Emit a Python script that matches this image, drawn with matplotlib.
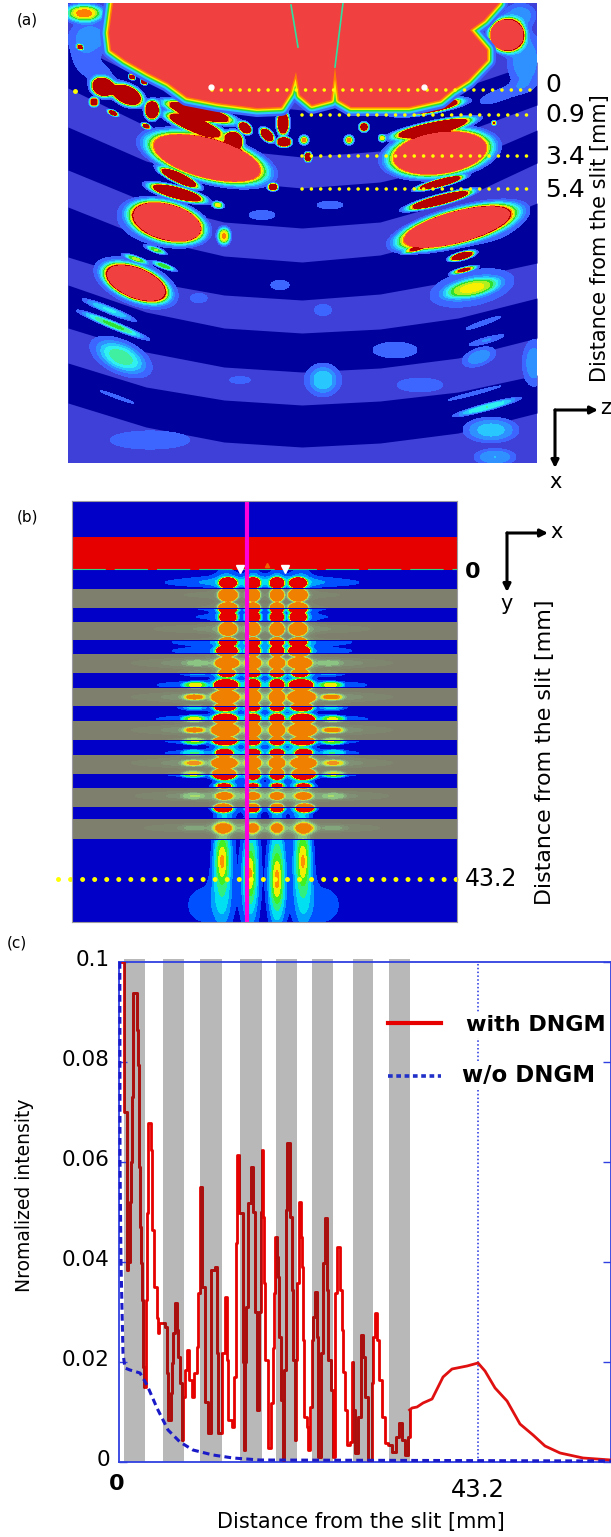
import numpy as np
import matplotlib
matplotlib.use('Agg')
import matplotlib.pyplot as plt
from matplotlib.patches import Polygon, Rectangle
from matplotlib.transforms import ScaledTranslation

W, H = 611, 1537

# ---- panel (a): layered waveguide map, coordinates are picture pixels
arc_x = [68, 146, 224, 302, 380, 458, 537]
band_tops = [[42, 80, 102, 110, 105, 89, 62],
             [127, 161, 181, 188, 182, 164, 130],
             [207, 238, 256, 262, 255, 235, 203],
             [285, 312, 328, 333, 329, 318, 298],
             [363, 387, 400, 405, 401, 392, 375]]
band_bottoms = [[88, 126, 149, 157, 151, 134, 105],
                [170, 202, 222, 228, 222, 200, 163],
                [257, 281, 295, 300, 294, 280, 263],
                [328, 352, 367, 372, 368, 358, 338],
                [403, 427, 442, 447, 443, 433, 413]]

# x, y, half length, half width, angle, peak
a_blobs = [
    (103, 87, 10, 8, 20, 2.7), (127, 95, 14, 8, 25, 2.7), (152, 110, 6, 8, 0, 2.7),
    (199, 112, 30, 6, 15, 2.7), (195, 125, 26, 6, 20, 2.7), (234, 140, 8, 7, 45, 2.7),
    (245, 128, 6, 4, 40, 2.7), (267, 135, 7, 4, 45, 2.7), (283, 123, 5, 10, 0, 2.7),
    (284, 142, 6, 4, 0, 2.7), (429, 107, 28, 5, -10, 2.7), (433, 128, 34, 5, -12, 2.7),
    (364, 127, 4, 4, 0, 1.6), (349, 140, 4, 4, 0, .95), (304, 140, 4, 4, 0, .95),
    (382, 138, 3, 3, 0, .8), (308, 157, 3, 4, 0, 2.0), (494, 123, 2, 2, 0, 1.0),
    (94, 102, 4, 4, 0, 1.5), (113, 113, 5, 2, 25, 1.5), (146, 126, 4, 2, 25, 1.5),
    (80, 47, 3, 2, 30, 1.2), (132, 77, 3, 2, 30, 1.6), (144, 82, 3, 2, 30, 1.6),
    (179, 178, 18, 4, 25, 2.7), (177, 193, 24, 5, 15, 2.7), (440, 183, 20, 3, -15, 2.7),
    (440, 200, 28, 4, -15, 2.7), (218, 205, 5, 3, 10, .85), (273, 187, 4, 3, 0, 2.2),
    (224, 236, 6, 8, 0, .92), (462, 256, 11, 3, -15, 2.2), (464, 270, 11, 2, -15, 1.1),
    (136, 259, 11, 2, 20, .65), (164, 266, 11, 2, 20, .65), (156, 250, 9, 2, 20, .65),
    (413, 250, 9, 2, -15, .62), (113, 325, 32, 3, 22, .62), (109, 310, 26, 3, 22, .4),
    (483, 323, 26, 3, -20, .14), (487, 340, 20, 3, -15, .2), (121, 357, 22, 11, 25, .36),
    (323, 380, 12, 12, 0, .24), (479, 357, 18, 9, -20, .25), (534, 363, 12, 24, 0, .25),
    (487, 407, 30, 3, -15, .5), (475, 393, 36, 2, -15, .15), (117, 397, 26, 2, 20, .14),
    (491, 430, 26, 12, 0, .34), (495, 457, 20, 8, 0, .3), (84, 13, 18, 8, 0, .95),
    (90, 38, 22, 18, 0, .25), (525, 60, 18, 30, 0, .26), (520, 15, 16, 12, 0, .25),
    (280, 285, 16, 8, 0, .12), (323, 310, 12, 8, 0, .14), (200, 298, 12, 7, 0, .12),
    (150, 440, 70, 16, 0, .12), (395, 350, 28, 10, 0, .16), (262, 215, 22, 8, 0, .12),
    (330, 205, 16, 5, 0, .16), (240, 380, 18, 6, 0, .12),
    # faint glow round the bright spots
    (472, 288, 44, 18, -12, .25), (136, 283, 46, 24, 22, .2), (121, 357, 36, 18, 25, .2),
    (323, 380, 24, 20, 0, .15), (420, 385, 40, 12, 0, .12), (490, 225, 40, 22, -15, .14),
    (150, 225, 44, 24, 15, .14), (94, 70, 30, 14, 30, .14), (500, 95, 30, 8, -20, .14),
]
# large pale red areas
a_big = [(207, 158, 54, 19, 15, 2.7), (440, 153, 46, 20, -8, 2.7), (167, 222, 34, 17, 15, 2.7),
         (457, 227, 54, 15, -15, 2.7), (136, 283, 30, 14, 22, 2.7), (507, 35, 16, 15, 0, 2.7),
         (472, 288, 26, 8, -12, .58)]

red_main = [(113, 3), (109, 33), (111, 50), (125, 60), (148, 73), (168, 83), (187, 97), (218, 103),
            (257, 108), (281, 107), (290, 93), (296, 72), (300, 95), (312, 105), (331, 100), (335, 67),
            (339, 100), (351, 107), (409, 107), (440, 100), (452, 90), (468, 80), (487, 60), (487, 50),
            (470, 30), (484, 20), (499, 3)]

slit_x = [[291, 298], [343, 335]]
slit_y = [[5, 47], [3, 67]]

dot_starts = [212, 302, 302, 302]
dot_ends = [537, 531, 531, 531]
dot_levels = [90, 115, 156, 189]
depth_labels = ['0', '0.9', '3.4', '5.4']
depth_label_y = [85, 115, 157, 190]

# ---- panel (b): field map with grey DNGM layers
stripe_tops = [589, 622, 654, 688, 721, 755, 788, 819]
stripe_bottoms = [608, 640, 673, 706, 740, 774, 807, 839]

row_y = [583, 595, 608, 617, 629, 642, 651, 663, 673, 685, 697, 707, 719, 730, 741, 753, 763, 774, 786, 796, 808, 828]
row_peak = [2, 2, 2, 2, 2, 2, 2, 2, 1.6, 2, 2, 1.8, 2, 2, 2, 1.5, 2, 2, 1.0, .8, 1.6, .6]
row_h = [5, 6, 5, 5, 6, 4, 5, 5, 3.5, 5, 6, 3.5, 4.5, 6, 3.5, 3.5, 5, 5, 2.5, 3.5, 4, 6]
row_left = [228, 228, 228, 228, 228, 228, 227, 227, 227, 226, 225, 225, 225, 225, 225, 224, 224, 224, 224, 224, 223, 223]
row_right = [298, 298, 298, 298, 298, 298, 299, 300, 300, 301, 302, 302, 303, 303, 303, 304, 304, 304, 304, 304, 305, 305]
row_w = [8, 9, 9, 8, 8, 8, 10, 10, 8, 11, 12, 10, 11, 12, 11, 8, 11, 11, 8, 8, 9, 10]
row_side = [0, 0, 0, 0, 0, 0, 0, .2, .1, .62, .75, .2, .6, .75, .6, .3, .62, .62, 0, .3, 0, .1]
row_streak = [.18, .18, .15, .15, .32, .22, .22, .55, .2, .3, .55, .2, .3, .55, .25, .25, .55, .25, .1, .5, .1, .4]
inner_x = [253, 277]

b_beams = [(222, 860, 6, 22, 0, .5), (250, 873, 5, 25, 0, .5), (277, 880, 6, 27, 0, .5), (303, 860, 6, 24, 0, .48),
           (222, 872, 9, 50, 0, .36), (250, 880, 9, 50, 0, .36), (277, 880, 9, 50, 0, .38), (303, 872, 9, 50, 0, .36),
           (205, 905, 28, 28, 0, .14), (322, 905, 28, 28, 0, .14),
           # glow along the four guided columns
           (226, 710, 10, 130, 0, .4), (253, 710, 7, 130, 0, .4), (277, 710, 7, 130, 0, .4), (301, 710, 10, 130, 0, .4),
           (262, 580, 75, 7, 0, .18)]

# ---- panel (c): intensity profiles
bar_start = [0.6, 5.3, 9.8, 14.6, 18.9, 23.2, 28.1, 32.5]
bar_end = [3.1, 7.8, 12.4, 17.2, 21.4, 25.8, 30.6, 35.0]

red_x = [0.36, 0.48, 0.6, 0.96, 1.14, 1.32, 1.44, 1.56, 1.68, 1.93, 2.12, 2.29, 2.41, 2.53, 2.65, 2.77, 2.89, 2.95, 3.13, 3.25,
         3.33, 3.37, 3.49, 3.73, 3.85, 3.97, 4.03, 4.21, 4.57, 4.69, 4.81, 5.54, 5.78, 5.9, 6.26, 6.38, 6.5, 6.74, 6.98, 7.1,
         7.34, 7.58, 7.7, 7.94, 8.18, 8.42, 8.78, 9.03, 9.39, 9.51, 9.75, 9.87, 9.99, 10.35, 10.71, 11.07, 11.55, 11.79, 11.91, 12.39,
         12.76, 13.0, 13.12, 13.6, 13.84, 14.08, 14.2, 14.44, 14.92, 15.04, 15.16, 15.28, 15.52, 15.88, 16.13, 16.37, 16.61, 16.85, 17.09, 17.21,
         17.33, 17.39, 17.57, 17.93, 18.29, 18.53, 18.65, 18.77, 19.01, 19.13, 19.25, 19.49, 19.74, 19.86, 20.1, 20.22, 20.58, 20.82, 20.94, 21.18,
         21.3, 21.42, 21.66, 21.9, 22.02, 22.14, 22.26, 22.62, 22.74, 22.98, 23.23, 23.35, 23.59, 23.83, 23.95, 24.31, 24.55, 24.79, 25.03, 25.15,
         25.51, 25.75, 25.99, 26.23, 26.59, 26.84, 26.96, 27.2, 27.44, 27.8, 28.04, 28.16, 28.4, 28.76, 29.12, 29.36, 29.6, 29.96, 30.44, 30.57,
         30.8, 31.05, 31.29, 31.65, 32.0, 32.37, 32.85, 33.33, 33.69, 34.06, 34.42, 34.78, 34.96]
red_y = [.1, .1, .07, .0384, .04, .052, .06, .073, .0938, .0938, .0864, .0794, .059, .047, .0398, .0324, .019, .015, .015, .0324,
         .0424, .0498, .0678, .0678, .0624, .057, .0464, .035, .0288, .0258, .0278, .027, .0178, .0084, .0138, .0198, .0258, .0318, .0264, .021,
         .0158, .0044, .013, .0184, .0224, .0164, .013, .0178, .023, .0338, .055, .055, .035, .012, .0058, .0384, .039, .0218, .0058, .0218,
         .033, .0204, .0084, .007, .017, .0438, .0614, .0498, .02, .0024, .02, .031, .0518, .059, .05, .03, .0104, .03, .05, .0624,
         .049, .0358, .0204, .0028, .0118, .0228, .0338, .045, .041, .037, .025, .0124, .0004, .0184, .0504, .0638, .049, .0344, .0204, .0044,
         .0204, .0358, .052, .045, .039, .0244, .009, .007, .0024, .011, .0244, .029, .034, .025, .001, .0218, .0398, .0488, .0344, .0204,
         .0144, .001, .0338, .043, .0344, .0264, .018, .0104, .0034, .004, .02, .0104, .0018, .009, .0254, .021, .013, .0004, .0158, .025,
         .0298, .0244, .0164, .009, .0038, .0034, .002, .005, .0078, .0044, .0014, .005, .0104]
tail_x = [34.96, 35.26, 35.86, 36.58, 37.67, 38.99, 40.07, 41.88, 43.2, 44.04, 45.25, 46.69, 48.25, 49.82, 51.26, 53.07, 55.84, 59.2]
tail_y = [.0104, .0108, .011, .0118, .0126, .017, .0186, .0192, .0198, .0182, .0148, .0122, .0076, .0054, .0032, .0018, .0008, .0004]
blue_x = [0.1, 0.12, 0.24, 0.48, 0.72, 1.32, 2.53, 3.37, 4.57, 5.9, 7.34, 8.9, 11.31, 13.72, 16.97, 59.2]
blue_y = [.1, .06, .0398, .0218, .0188, .0184, .0178, .0154, .0108, .0064, .004, .0024, .0014, .0008, .0004, .0002]
y_ticks = [0, 0.02, 0.04, 0.06, 0.08, 0.1]
y_tick_labels = ['0', '0.02', '0.04', '0.06', '0.08', '0.1']


def axes_px(x0, y0, x1, y1):
    return fig.add_axes([x0 / W, 1 - y1 / H, (x1 - x0) / W, (y1 - y0) / H])


def field(X, Y, blobs, p=1.0):
    F = np.zeros_like(X, dtype=float)
    for x0, y0, a, b, ang, peak in blobs:
        t = np.radians(ang)
        u = (X - x0) * np.cos(t) + (Y - y0) * np.sin(t)
        v = -(X - x0) * np.sin(t) + (Y - y0) * np.cos(t)
        F += peak * np.exp(-((u / a) ** 2 + (v / b) ** 2) ** p)
    return F


fig = plt.figure(figsize=(W / 100, H / 100), dpi=100)

# (a)
ax = axes_px(68, 3, 537, 463)
ax.set_facecolor('#3f40d8')
for s in ax.spines.values():
    s.set_visible(False)
for top, bottom in zip(band_tops, band_bottoms):
    ax.fill_between(arc_x, top, bottom, color='#00009c', lw=0)
gx, gy = np.meshgrid(np.arange(68, 538), np.arange(3, 464))
a_levels = [.1, .2, .3, .4, .5, .6, .7, .8, .9, 1, 99]
a_colors = ['#3c66ff', '#2f90ff', '#28c8ff', '#30f0f0', '#40f0a0', '#30e030', '#b0f020', '#f8f000', '#ff8000', '#b40000']
F_big = field(gx, gy, a_big, p=2)
ax.contourf(gx, gy, field(gx, gy, a_blobs, p=1.5) + F_big, levels=a_levels, colors=a_colors)
for lw, c in zip([18, 13, 9, 6, 3], ['#3c66ff', '#28c8ff', '#30e030', '#f8f000', '#ff8000']):
    ax.add_patch(Polygon(red_main, closed=True, fill=False, ec=c, lw=lw * .72, joinstyle='round'))
ax.add_patch(Polygon(red_main, closed=True, fc='#f04040', ec='none'))
ax.contourf(gx, gy, F_big, levels=[1, 99], colors=['#f04040'])
for sx, sy in zip(slit_x, slit_y):
    ax.plot(sx, sy, color='#30e0a0', lw=1.2)
for x0, x1, y in zip(dot_starts, dot_ends, dot_levels):
    ax.plot([x0, x1], [y, y], color='#ffff00', lw=2.6, ls=(0, (0.01, 2.58)), dash_capstyle='round')
ax.plot([75], [91], 'o', color='#ffff00', ms=2.5)
ax.plot([211, 424], [87, 87], 'o', color='white', ms=3.5)
ax.set_xlim(68, 537)
ax.set_ylim(463, 3)
ax.set_xticks([])
ax.set_yticks([])

# (b)
ax = axes_px(72, 501, 457, 922)
ax.set_facecolor('#0000c8')
for s in ax.spines.values():
    s.set_color('#9a9aa0')
    s.set_linewidth(.8)
ax.axhspan(537, 570, color='#e60000', lw=0)
for top, bottom in zip(stripe_tops, stripe_bottoms):
    ax.axhspan(top, bottom, color='#7f7f6e', lw=0)

spots = []
streaks = list(b_beams)
for i in range(len(row_y)):
    y, pk, h = row_y[i], row_peak[i], row_h[i]
    for cx in [row_left[i], row_right[i]]:
        spots.append((cx, y, row_w[i], h, 0, pk))
    for cx in inner_x:
        spots.append((cx, y, 6.5, h, 0, pk * .95))
    if row_side[i] > 0:
        spots.append((row_left[i] - 31, y, 11, 3, 0, row_side[i]))
        spots.append((row_right[i] + 30, y, 11, 3, 0, row_side[i]))
    streaks.append((262, y, 100, 4.5, 0, row_streak[i]))
gx, gy = np.meshgrid(np.arange(72, 458), np.arange(570, 923))
F = field(gx, gy, spots, p=2) + field(gx, gy, streaks)
in_stripe = np.zeros_like(gy, dtype=bool)
for top, bottom in zip(stripe_tops, stripe_bottoms):
    in_stripe |= (gy >= top) & (gy <= bottom)
b_levels = [.1, .2, .3, .45, .6, .75, .9, 1, 99]
b_colors = ['#0050ff', '#00a0ff', '#00e0f0', '#30f080', '#40f020', '#f0f000', '#ff9000', '#e60000']
b_gray = ['#7f8670', '#7f9074', '#84a67c', '#8cc484', '#a8dc6c', '#e0e020', '#f09020', '#f08000']
ax.contourf(gx, gy, np.ma.masked_where(in_stripe, F), levels=b_levels, colors=b_colors)
ax.contourf(gx, gy, np.ma.masked_where(~in_stripe, F), levels=b_levels, colors=b_gray)
ax.plot([72, 457], [569.5, 569.5], color='#30d080', lw=.8, ls=(0, (30, 8)))
ax.plot([240, 285], [569, 569], 'v', color='white', ms=6)
ax.plot([267], [565], '^', color='#f06000', ms=3)
ax.axvline(247, color='#ff00dc', lw=3)
ax.plot([58, 457], [879, 879], color='#ffff00', lw=3.6, ls=(0, (0.01, 2.4)), dash_capstyle='round', clip_on=False)
ax.set_xlim(72, 457)
ax.set_ylim(922, 501)
ax.set_xticks([])
ax.set_yticks([])

# (c)
ax = axes_px(119, 962, 611, 1462)
frame = '#3040e0'
for s in ax.spines.values():
    s.set_color(frame)
    s.set_linewidth(1.3)
for s0, s1 in zip(bar_start, bar_end):
    ax.add_patch(Rectangle((s0, 0), s1 - s0, .1006, fc='#b8b8b8', ec='none', clip_on=False, zorder=1))
ax.axvline(43.2, color='#2030e0', lw=1.1, ls=(0, (1, 1.5)), zorder=2)
ax.plot(red_x, red_y, color='#e60000', lw=2, drawstyle='steps-post', zorder=3)
ax.plot(tail_x, tail_y, color='#e01010', lw=2, zorder=3)
for s0, s1 in zip(bar_start, bar_end):
    dark, = ax.plot(red_x, red_y, color='#a81010', lw=2, drawstyle='steps-post', zorder=4)
    dark.set_clip_path(Rectangle((s0, 0), s1 - s0, .1, transform=ax.transData))
ax.plot(blue_x, blue_y, color='#1a1ac8', lw=2.2, ls=(0, (2.2, 1.4)), zorder=5, clip_on=False)
ax.set_xlim(0, 59.2)
ax.set_ylim(0, 0.1)
ax.set_yticks(y_ticks)
ax.set_yticklabels(y_tick_labels, fontsize=15.5)
ax.set_xticks([])
ax.tick_params(axis='y', direction='in', length=6, width=1, color=frame, right=True, pad=6.5)
shift = ScaledTranslation(0, 4 / 100, fig.dpi_scale_trans)
for lab in ax.get_yticklabels():
    lab.set_transform(lab.get_transform() + shift)

# page level text and arrows, picture pixels
page = fig.add_axes([0, 0, 1, 1], zorder=10)
page.set_xlim(0, W)
page.set_ylim(H, 0)
page.axis('off')


def label(x, y, s, size, **kw):
    page.text(x, y, s, fontsize=size, ha=kw.pop('ha', 'center'), va='center', **kw)


def axis_arrows(cx, cy, rx, by):
    for tip in [(rx, cy), (cx, by)]:
        page.annotate('', xy=tip, xytext=(cx, cy),
                      arrowprops=dict(arrowstyle='-|>', color='black', lw=2.2, mutation_scale=11, shrinkA=0, shrinkB=0))


label(27, 20, '(a)', 11)
label(27, 517, '(b)', 11)
label(17, 943, '(c)', 11)
for s, y in zip(depth_labels, depth_label_y):
    label(545, y, s, 18, ha='left')
label(600, 238, 'Distance from the slit [mm]', 15, rotation=90)
axis_arrows(555, 410, 598, 468)
label(606, 408, 'z', 15)
label(556, 482, 'x', 15)

axis_arrows(507, 533, 548, 592)
label(557, 532, 'x', 15)
label(507, 604, 'y', 15)
label(473, 572, '0', 16, fontweight='bold')
label(465, 879, '43.2', 17, ha='left')
label(545, 752, 'Distance from the slit [mm]', 15.9, rotation=90)

page.plot([388, 441], [1023, 1023], color='#e60000', lw=3)
page.plot([388, 441], [1076, 1076], color='#2030c8', lw=2.6, ls=(0, (1.3, 1)))
label(466, 1025, 'with DNGM', 16, ha='left', fontweight='bold', bbox=dict(fc='white', ec='none', pad=2))
label(462, 1076, 'w/o DNGM', 16.5, ha='left', fontweight='bold', bbox=dict(fc='white', ec='none', pad=2))
label(25, 1195, 'Nromalized intensity', 13.5, rotation=90)
label(117, 1484, '0', 16, fontweight='bold')
label(478, 1490, '43.2', 17.5)
label(361, 1522, 'Distance from the slit [mm]', 15)

fig.savefig('out.png', dpi=100)
